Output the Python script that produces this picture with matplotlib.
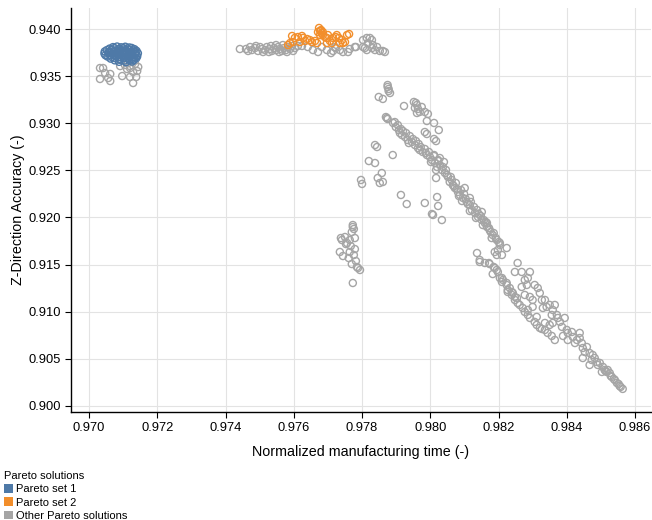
import numpy as np
import matplotlib
matplotlib.use("Agg")
import matplotlib.pyplot as plt
from matplotlib.patches import Patch

# Pareto set 1: normalized manufacturing time / Z-direction accuracy
SET1_TIME = [
    0.97070, 0.97082, 0.97094, 0.97106, 0.97118,
    0.97060, 0.97074, 0.97088, 0.97100, 0.97112, 0.97125, 0.97133,
    0.97052, 0.97066, 0.97079, 0.97092, 0.97105, 0.97118, 0.97130, 0.97139,
    0.97046, 0.97059, 0.97072, 0.97085, 0.97098, 0.97111, 0.97124, 0.97136,
    0.97045, 0.97057, 0.97070, 0.97083, 0.97096, 0.97109, 0.97122, 0.97135, 0.97143,
    0.97048, 0.97061, 0.97074, 0.97087, 0.97100, 0.97113, 0.97126, 0.97139,
    0.97054, 0.97067, 0.97080, 0.97093, 0.97106, 0.97119, 0.97132, 0.97141,
    0.97063, 0.97076, 0.97089, 0.97102, 0.97115, 0.97128, 0.97138,
    0.97075, 0.97090, 0.97104, 0.97118, 0.97131,
    0.97088, 0.97108, 0.97126,
]
SET1_ACC = [
    0.93808, 0.93814, 0.93806, 0.93812, 0.93804,
    0.93792, 0.93798, 0.93790, 0.93797, 0.93793, 0.93799, 0.93786,
    0.93776, 0.93781, 0.93773, 0.93779, 0.93775, 0.93782, 0.93772, 0.93768,
    0.93762, 0.93757, 0.93764, 0.93758, 0.93763, 0.93756, 0.93761, 0.93754,
    0.93740, 0.93745, 0.93738, 0.93744, 0.93741, 0.93737, 0.93746, 0.93739, 0.93743,
    0.93722, 0.93727, 0.93720, 0.93726, 0.93723, 0.93719, 0.93728, 0.93721,
    0.93708, 0.93703, 0.93709, 0.93702, 0.93707, 0.93704, 0.93701, 0.93710,
    0.93686, 0.93691, 0.93684, 0.93690, 0.93687, 0.93683, 0.93689,
    0.93668, 0.93673, 0.93666, 0.93672, 0.93669,
    0.93652, 0.93648, 0.93655,
]

# Pareto set 2
SET2_TIME = [
    0.97595, 0.97589, 0.97598, 0.97603, 0.97612, 0.97624, 0.97627, 0.97633,
    0.97639, 0.97647, 0.97653, 0.97662, 0.97668, 0.97671, 0.97674, 0.97680,
    0.97682, 0.97685, 0.97691, 0.97697, 0.97700, 0.97706, 0.97715, 0.97723,
    0.97726, 0.97732, 0.97741, 0.97744, 0.97750, 0.97756, 0.97762, 0.97697,
    0.97712, 0.97735, 0.97677, 0.97583, 0.97618, 0.97677, 0.97685,
]
SET2_ACC = [
    0.93926, 0.93851, 0.93862, 0.93905, 0.93915, 0.93926, 0.93905, 0.93873,
    0.93894, 0.93883, 0.93862, 0.93873, 0.93851, 0.93968, 0.94011, 0.93989,
    0.93958, 0.93936, 0.93915, 0.93905, 0.93936, 0.93873, 0.93905, 0.93915,
    0.93936, 0.93905, 0.93883, 0.93851, 0.93862, 0.93936, 0.93947, 0.93851,
    0.93851, 0.93851, 0.93936, 0.93830, 0.93862, 0.93980, 0.93968,
]

# Remaining Pareto solutions
OTHER_TIME = [
    # near set 1
    0.97032, 0.97041, 0.97047, 0.97062, 0.97056, 0.97032, 0.97062, 0.97097,
    0.97111, 0.97120, 0.97129, 0.97141, 0.97138, 0.97129, 0.97120,
    0.97091, 0.97105, 0.97120, 0.97135, 0.97144, 0.97114,
    # plateau around 0.975
    0.97442, 0.97460, 0.97472, 0.97477, 0.97486, 0.97495, 0.97501, 0.97507,
    0.97516, 0.97521, 0.97530, 0.97536, 0.97542, 0.97548, 0.97554, 0.97559,
    0.97565, 0.97571, 0.97577, 0.97583, 0.97589, 0.97595, 0.97603, 0.97612,
    0.97489, 0.97510, 0.97527, 0.97548, 0.97568, 0.97466, 0.97533, 0.97557,
    0.97580, 0.97598,
    0.97624, 0.97641, 0.97656, 0.97671, 0.97682, 0.97697, 0.97709, 0.97723,
    0.97744, 0.97764, 0.97782,
    # knee near 0.978
    0.97803, 0.97814, 0.97823, 0.97829, 0.97817, 0.97808, 0.97803, 0.97814,
    0.97829, 0.97832, 0.97838, 0.97844, 0.97852, 0.97861, 0.97867, 0.97779,
    0.97759, 0.97721, 0.97715, 0.97735,
    # short column and upper branch
    0.97875, 0.97875, 0.97878, 0.97878, 0.97882, 0.97849, 0.97861, 0.97923,
    0.97952, 0.97958, 0.97961, 0.97955, 0.97964, 0.97969, 0.97961, 0.97975,
    0.97984, 0.97993, 0.97990, 0.98011, 0.98025, 0.97984, 0.97990, 0.98011,
    0.98017,
    # main descending band
    0.97870, 0.97873, 0.97875, 0.97891, 0.97899, 0.97908, 0.97911, 0.97926,
    0.97934, 0.97946, 0.97955, 0.97964, 0.97969, 0.97978, 0.97990, 0.97999,
    0.98005, 0.98014, 0.98020, 0.98034, 0.98043, 0.98052, 0.98057, 0.98066,
    0.98072, 0.98081, 0.98087, 0.98096, 0.98107, 0.98116, 0.98122, 0.98131,
    0.98140, 0.98151, 0.98160, 0.98166, 0.98174, 0.98183, 0.98195, 0.98204,
    0.98198, 0.98189, 0.98195,
    0.97896, 0.97905, 0.97914, 0.97920, 0.97929, 0.97940, 0.97949, 0.97958,
    0.97917, 0.97937, 0.97966, 0.97972, 0.97984, 0.97987, 0.97996, 0.98011,
    0.98002, 0.98023, 0.98028, 0.98037, 0.98017, 0.98046, 0.98049, 0.98060,
    0.98063, 0.98075, 0.98069, 0.98078, 0.98090, 0.98084, 0.98099, 0.98104,
    0.98093, 0.98110, 0.98119, 0.98128, 0.98116, 0.98137, 0.98142, 0.98134,
    0.98148, 0.98157, 0.98154, 0.98163, 0.98172, 0.98177, 0.98186, 0.98192,
    0.98180, 0.98201,
    0.98011, 0.98023, 0.98040, 0.98028, 0.98017, 0.98101, 0.98116, 0.98151,
    0.98166, 0.98224, 0.98204, 0.98210,
    # scattered solutions left of the band
    0.97838, 0.97844, 0.97820, 0.97838, 0.97858, 0.97846, 0.97852, 0.97861,
    0.97797, 0.97800, 0.97890, 0.97914, 0.97931, 0.97984, 0.98005, 0.98008,
    0.98020, 0.98023, 0.98034,
    # low column near 0.9777
    0.97773, 0.97773, 0.97776, 0.97770, 0.97750, 0.97741, 0.97756, 0.97764,
    0.97779, 0.97767, 0.97779, 0.97764, 0.97776, 0.97761, 0.97782, 0.97770,
    0.97785, 0.97794, 0.97788, 0.97735, 0.97744, 0.97738, 0.97753, 0.97773,
    # lower band
    0.98137, 0.98145, 0.98145, 0.98160, 0.98172, 0.98174, 0.98186, 0.98189,
    0.98195, 0.98183, 0.98198, 0.98204, 0.98210, 0.98213, 0.98210, 0.98224,
    0.98224, 0.98227, 0.98233, 0.98227, 0.98239, 0.98239, 0.98242, 0.98248,
    0.98254, 0.98256, 0.98248,
    0.98262, 0.98271, 0.98277, 0.98286, 0.98292, 0.98306, 0.98312, 0.98321,
    0.98336, 0.98344, 0.98356, 0.98365,
    # upper right band
    0.98256, 0.98248, 0.98268, 0.98277, 0.98268, 0.98283, 0.98292, 0.98286,
    0.98277, 0.98292, 0.98300, 0.98300, 0.98286, 0.98312, 0.98306, 0.98315,
    0.98321, 0.98327, 0.98336, 0.98341, 0.98330, 0.98350, 0.98359, 0.98365,
    0.98356, 0.98371, 0.98374, 0.98380, 0.98394, 0.98359, 0.98350, 0.98336,
    0.98327,
    # tail towards the longest times
    0.98386, 0.98400, 0.98403, 0.98415, 0.98418, 0.98430, 0.98438, 0.98444,
    0.98447, 0.98453, 0.98459, 0.98467, 0.98476, 0.98482, 0.98473, 0.98488,
    0.98497, 0.98506, 0.98511, 0.98520, 0.98526, 0.98532, 0.98541, 0.98547,
    0.98555, 0.98564, 0.98517, 0.98503, 0.98491, 0.98447, 0.98467, 0.98438,
    0.98389, 0.98403, 0.98424, 0.98552, 0.98558, 0.98538, 0.98529, 0.98514,
]
OTHER_ACC = [
    0.93586, 0.93586, 0.93533, 0.93523, 0.93480, 0.93470, 0.93448, 0.93501,
    0.93576, 0.93586, 0.93544, 0.93554, 0.93491, 0.93427, 0.93491,
    0.93607, 0.93618, 0.93607, 0.93629, 0.93597, 0.93639,
    0.93788, 0.93788, 0.93809, 0.93777, 0.93798, 0.93767, 0.93809, 0.93788,
    0.93777, 0.93809, 0.93788, 0.93767, 0.93798, 0.93777, 0.93809, 0.93788,
    0.93767, 0.93798, 0.93777, 0.93809, 0.93788, 0.93820, 0.93798, 0.93820,
    0.93820, 0.93756, 0.93756, 0.93830, 0.93830, 0.93767, 0.93820, 0.93756,
    0.93756, 0.93767,
    0.93820, 0.93809, 0.93777, 0.93756, 0.93809, 0.93777, 0.93745, 0.93798,
    0.93756, 0.93788, 0.93809,
    0.93883, 0.93905, 0.93905, 0.93883, 0.93851, 0.93798, 0.93809, 0.93777,
    0.93798, 0.93830, 0.93777, 0.93809, 0.93767, 0.93767, 0.93756, 0.93809,
    0.93756, 0.93809, 0.93767, 0.93777,
    0.93406, 0.93385, 0.93364, 0.93342, 0.93321, 0.93279, 0.93258, 0.93183,
    0.93226, 0.93215, 0.93194, 0.93162, 0.93152, 0.93120, 0.93109, 0.93173,
    0.93120, 0.93099, 0.93024, 0.93003, 0.92928, 0.92907, 0.92886, 0.92833,
    0.92811,
    0.93066, 0.93055, 0.93045, 0.93003, 0.92960, 0.92928, 0.92896, 0.92854,
    0.92822, 0.92801, 0.92769, 0.92737, 0.92716, 0.92695, 0.92663, 0.92642,
    0.92610, 0.92578, 0.92536, 0.92504, 0.92472, 0.92430, 0.92377, 0.92345,
    0.92313, 0.92271, 0.92239, 0.92207, 0.92165, 0.92133, 0.92080, 0.92048,
    0.92006, 0.91973, 0.91942, 0.91900, 0.91867, 0.91814, 0.91761, 0.91708,
    0.91655, 0.91634, 0.91602,
    0.93013, 0.92981, 0.92939, 0.92918, 0.92896, 0.92864, 0.92833, 0.92811,
    0.92875, 0.92790, 0.92780, 0.92748, 0.92727, 0.92684, 0.92695, 0.92652,
    0.92589, 0.92599, 0.92557, 0.92536, 0.92504, 0.92504, 0.92451, 0.92430,
    0.92398, 0.92366, 0.92334, 0.92303, 0.92292, 0.92228, 0.92250, 0.92196,
    0.92175, 0.92143, 0.92165, 0.92112, 0.92069, 0.92080, 0.92037, 0.91995,
    0.92016, 0.91973, 0.91920, 0.91952, 0.91888, 0.91846, 0.91835, 0.91782,
    0.91782, 0.91740,
    0.92663, 0.92610, 0.92589, 0.92631, 0.92419, 0.92313, 0.92207, 0.92059,
    0.91942, 0.91676, 0.91729, 0.91602,
    0.92769, 0.92748, 0.92599, 0.92578, 0.92472, 0.92419, 0.92366, 0.92377,
    0.92398, 0.92356, 0.92663, 0.92239, 0.92143, 0.92154, 0.92037, 0.92027,
    0.92217, 0.92122, 0.91973,
    0.91920, 0.91899, 0.91878, 0.91846, 0.91793, 0.91761, 0.91729, 0.91761,
    0.91782, 0.91697, 0.91665, 0.91634, 0.91602, 0.91570, 0.91538, 0.91506,
    0.91475, 0.91443, 0.91464, 0.91634, 0.91591, 0.91782, 0.91718, 0.91305,
    0.91623, 0.91549, 0.91528, 0.91517, 0.91517, 0.91506, 0.91475, 0.91464,
    0.91443, 0.91400, 0.91422, 0.91358, 0.91358, 0.91337, 0.91316, 0.91305,
    0.91284, 0.91231, 0.91252, 0.91210, 0.91210, 0.91178, 0.91199, 0.91157,
    0.91146, 0.91093, 0.91125,
    0.91072, 0.91040, 0.90998, 0.90966, 0.90934, 0.90892, 0.90860, 0.90828,
    0.90807, 0.90775, 0.90743, 0.90700,
    0.91517, 0.91422, 0.91422, 0.91337, 0.91263, 0.91284, 0.91422, 0.91358,
    0.91178, 0.91157, 0.91125, 0.91051, 0.91019, 0.90945, 0.91284, 0.91252,
    0.91199, 0.91125, 0.91125, 0.91051, 0.91040, 0.91072, 0.91019, 0.91072,
    0.90966, 0.90966, 0.90934, 0.90892, 0.90934, 0.90881, 0.90860, 0.90881,
    0.90817,
    0.90839, 0.90807, 0.90775, 0.90785, 0.90732, 0.90700, 0.90721, 0.90668,
    0.90615, 0.90573, 0.90626, 0.90562, 0.90541, 0.90509, 0.90488, 0.90467,
    0.90456, 0.90414, 0.90382, 0.90382, 0.90350, 0.90308, 0.90276, 0.90244,
    0.90212, 0.90181, 0.90361, 0.90361, 0.90435, 0.90509, 0.90435, 0.90775,
    0.90743, 0.90700, 0.90668, 0.90233, 0.90202, 0.90286, 0.90318, 0.90371,
]

X_TICKS = [0.970, 0.972, 0.974, 0.976, 0.978, 0.980, 0.982, 0.984, 0.986]
Y_TICKS = [0.900, 0.905, 0.910, 0.915, 0.920, 0.925, 0.930, 0.935, 0.940]

BLUE = "#4e79a7"
ORANGE = "#f28e2b"
GREY = "#a5a5a5"

plt.rcParams["font.family"] = ["Liberation Sans", "DejaVu Sans"]

fig = plt.figure(figsize=(6.52, 5.2), dpi=100)
ax = fig.add_axes([0.1089, 0.2077, 0.8896, 0.7769])

kw = dict(s=26, facecolors="none", linewidths=1.0)
ax.scatter(OTHER_TIME, OTHER_ACC, edgecolors=GREY, **kw)
ax.scatter(SET1_TIME, SET1_ACC, edgecolors=BLUE, **kw)
ax.scatter(SET2_TIME, SET2_ACC, edgecolors=ORANGE, **kw)

ax.set_xlim(0.96947, 0.98647)
ax.set_ylim(0.89936, 0.94223)
ax.set_xticks(X_TICKS)
ax.set_yticks(Y_TICKS)
ax.set_xticklabels([f"{v:.3f}" for v in X_TICKS])
ax.set_yticklabels([f"{v:.3f}" for v in Y_TICKS])
ax.tick_params(labelsize=9.3, length=4, width=0.8, color="black", pad=3)
ax.grid(color="#e3e3e3", lw=0.8)
ax.set_axisbelow(True)
for side in ("top", "right"):
    ax.spines[side].set_visible(False)
for side in ("left", "bottom"):
    ax.spines[side].set_linewidth(1.0)
    ax.spines[side].set_color("black")

ax.set_xlabel("Normalized manufacturing time (-)", fontsize=10.3, labelpad=8)
ax.set_ylabel("Z-Direction Accuracy (-)", fontsize=10.3, labelpad=3)

handles = [Patch(facecolor=BLUE, label="Pareto set 1"),
           Patch(facecolor=ORANGE, label="Pareto set 2"),
           Patch(facecolor=GREY, label="Other Pareto solutions")]
leg = fig.legend(handles=handles, title="Pareto solutions", loc="upper left",
                 bbox_to_anchor=(0.006, 0.094), frameon=False, fontsize=8,
                 title_fontsize=8, handlelength=0.8, handleheight=0.8,
                 handletextpad=0.3, labelspacing=0.28, borderpad=0,
                 borderaxespad=0, alignment="left")

fig.savefig("out.png", dpi=100)
